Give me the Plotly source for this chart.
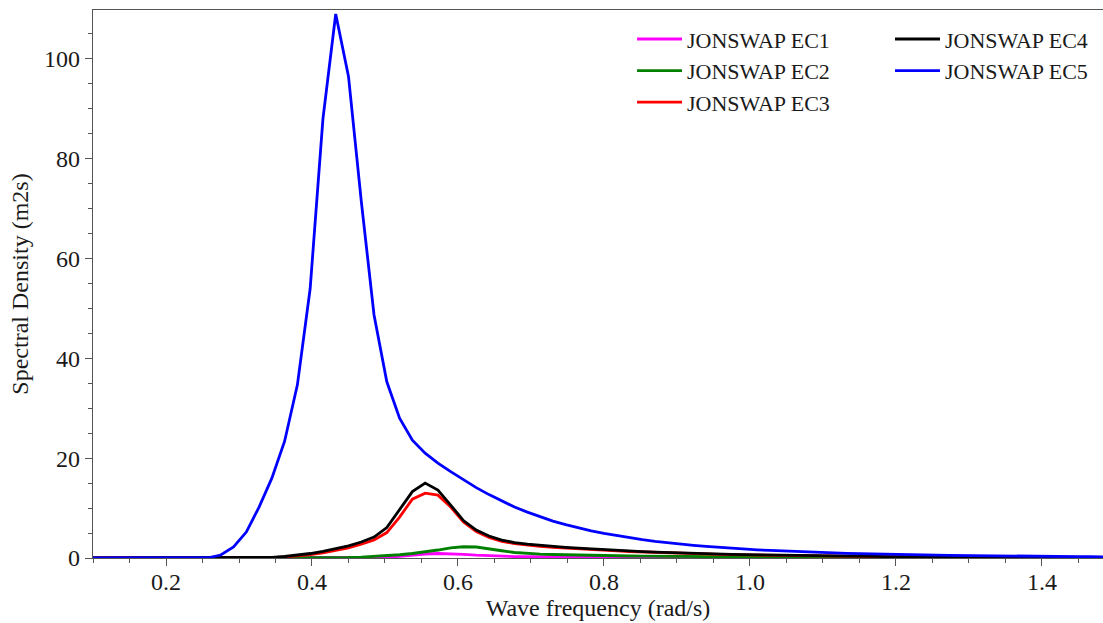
import plotly.graph_objects as go

# Wave frequency grid (rad/s)
freq = [0.1, 0.1175, 0.135, 0.1525, 0.17, 0.1875, 0.205, 0.2225, 0.24, 0.2575,
        0.275, 0.2925, 0.31, 0.3275, 0.345, 0.3625, 0.38, 0.3975, 0.415, 0.4325,
        0.45, 0.4675, 0.485, 0.5025, 0.52, 0.5375, 0.555, 0.5725, 0.59, 0.6075,
        0.625, 0.6425, 0.66, 0.6775, 0.695, 0.7125, 0.73, 0.7475, 0.765, 0.7825,
        0.8, 0.8175, 0.835, 0.8525, 0.87, 0.8875, 0.905, 0.9225, 0.94, 0.9575,
        0.975, 0.9925, 1.01, 1.0275, 1.045, 1.0625, 1.08, 1.0975, 1.115, 1.1325,
        1.15, 1.1675, 1.185, 1.2025, 1.22, 1.2375, 1.255, 1.2725, 1.29, 1.3075,
        1.325, 1.3425, 1.36, 1.3775, 1.395, 1.4125, 1.43, 1.4475, 1.465, 1.4825,
        1.5]

ec1 = [0]*22 + [0.05, 0.15, 0.33, 0.58, 0.8, 0.9, 0.86, 0.72, 0.56, 0.43,
        0.35, 0.29, 0.25, 0.22, 0.195, 0.175, 0.158, 0.143, 0.13, 0.12,
        0.11, 0.1, 0.092, 0.085, 0.078, 0.072, 0.067, 0.062, 0.057, 0.053,
        0.049, 0.046, 0.043, 0.04, 0.037, 0.035, 0.032, 0.03, 0.028,
        0.026, 0.025, 0.023, 0.022, 0.021, 0.019, 0.018, 0.017, 0.016, 0.015,
        0.015, 0.014, 0.013, 0.012, 0.012, 0.011, 0.011, 0.01, 0.01, 0.009]

ec2 = [0]*18 + [0.02, 0.05, 0.1, 0.18, 0.3, 0.45, 0.65, 0.9, 1.2, 1.6,
        2.05, 2.25, 2.2, 1.9, 1.45, 1.1, 0.9, 0.78, 0.7, 0.63,
        0.57, 0.52, 0.47, 0.435, 0.40, 0.37, 0.34, 0.315, 0.29, 0.27,
        0.25, 0.235, 0.22, 0.205, 0.19, 0.178, 0.166, 0.155, 0.145, 0.136,
        0.127, 0.12, 0.112, 0.105, 0.099, 0.093, 0.088, 0.083, 0.078, 0.074,
        0.07, 0.066, 0.062, 0.059, 0.056, 0.053, 0.05, 0.048, 0.045, 0.043,
        0.041, 0.039, 0.037]

ec3 = [0]*13 + [0.03, 0.08, 0.2, 0.4, 0.68, 1.05, 1.5, 2.05, 2.75, 3.6,
        5.1, 8.2, 11.8, 13.0, 12.6, 10.2, 7.2, 5.3, 4.1, 3.35,
        2.88, 2.58, 2.34, 2.14, 1.97, 1.82, 1.67, 1.54, 1.42, 1.30,
        1.20, 1.10, 1.01, 0.93, 0.855, 0.79, 0.725, 0.67, 0.62, 0.575,
        0.53, 0.49, 0.455, 0.42, 0.39, 0.36, 0.335, 0.315, 0.29, 0.27,
        0.25, 0.237, 0.223, 0.205, 0.195, 0.18, 0.167, 0.158, 0.15, 0.14,
        0.13, 0.124, 0.117, 0.11, 0.103, 0.098, 0.092, 0.087]

ec4 = [0]*12 + [0.02, 0.05, 0.12, 0.3, 0.55, 0.9, 1.35, 1.85, 2.45, 3.2,
        4.2, 6.1, 9.6, 13.3, 15.0, 13.6, 10.6, 7.5, 5.6, 4.4,
        3.6, 3.1, 2.78, 2.52, 2.31, 2.13, 1.96, 1.8, 1.66, 1.53,
        1.40, 1.29, 1.19, 1.09, 1.00, 0.92, 0.85, 0.78, 0.72, 0.67,
        0.62, 0.57, 0.53, 0.49, 0.45, 0.42, 0.39, 0.36, 0.34, 0.31,
        0.29, 0.27, 0.255, 0.24, 0.22, 0.21, 0.195, 0.18, 0.17, 0.16,
        0.15, 0.14, 0.133, 0.126, 0.118, 0.111, 0.105, 0.099, 0.094]

ec5 = [0]*9 + [0.05, 0.6, 2.2, 5.2, 10.2, 16.0, 23.4, 34.7, 54.0, 88.0,
        109.0, 96.5, 71.5, 48.7, 35.3, 28.0, 23.6, 21.0, 19.0, 17.3,
        15.7, 14.1, 12.7, 11.4, 10.2, 9.2, 8.3, 7.4, 6.7, 6.0,
        5.45, 4.92, 4.46, 4.04, 3.67, 3.34, 3.04, 2.77, 2.53, 2.31,
        2.12, 1.94, 1.78, 1.64, 1.51, 1.39, 1.28, 1.18, 1.09, 1.01,
        0.94, 0.87, 0.81, 0.75, 0.70, 0.65, 0.61, 0.57, 0.53, 0.49,
        0.46, 0.43, 0.41, 0.38, 0.36, 0.34, 0.32, 0.30, 0.28, 0.26,
        0.25, 0.23]

names = ["JONSWAP EC1", "JONSWAP EC2", "JONSWAP EC3", "JONSWAP EC4", "JONSWAP EC5"]
series = [ec1, ec2, ec3, ec4, ec5]
colors = ["#ff00ff", "#008000", "#ff0000", "#000000", "#0000ff"]
legends = ["legend", "legend", "legend", "legend2", "legend2"]

for s in series:
    assert len(s) == len(freq), len(s)

FONT = "Liberation Serif, Times New Roman, serif"
TXT = "#1a1a1a"

fig = go.Figure()
for name, s, c, lg in zip(names, series, colors, legends):
    fig.add_trace(go.Scatter(x=freq, y=s, mode="lines", name=name,
                             line=dict(color=c, width=2.8),
                             legend=lg, legendgroup=name))

axis_common = dict(
    showline=True, linecolor="#555555", linewidth=1.3,
    ticks="outside", ticklen=7, tickwidth=1.2, tickcolor="#555555",
    showgrid=False, zeroline=False,
    tickfont=dict(family=FONT, size=24, color=TXT),
)

legend_common = dict(xanchor="left", yanchor="top", y=0.985,
                     bgcolor="rgba(0,0,0,0)", tracegroupgap=0, itemwidth=45,
                     font=dict(family=FONT, size=22, color=TXT))

fig.update_layout(
    width=1103, height=623,
    margin=dict(l=93, r=0, t=10, b=65),
    paper_bgcolor="white", plot_bgcolor="white",
    font=dict(family=FONT, color=TXT),
    xaxis=dict(
        range=[0.1, 1.4836], tickvals=[0.2, 0.4, 0.6, 0.8, 1.0, 1.2, 1.4],
        ticktext=["0.2", "0.4", "0.6", "0.8", "1.0", "1.2", "1.4"],
        mirror=True, ticklabelstandoff=-5,
        minor=dict(dtick=0.05, tick0=0.0, ticks="outside", ticklen=4,
                   tickcolor="#555555", tickwidth=1),
        title=dict(text="Wave frequency (rad/s)", font=dict(family=FONT, size=24, color=TXT),
                   standoff=4),
        **axis_common),
    yaxis=dict(
        range=[0, 109.8], tickvals=[0, 20, 40, 60, 80, 100],
        ticklabelstandoff=0,
        minor=dict(dtick=5, tick0=0, ticks="outside", ticklen=4,
                   tickcolor="#555555", tickwidth=1),
        title=dict(text="Spectral Density (m2s)", font=dict(family=FONT, size=24, color=TXT),
                   standoff=8),
        **axis_common),
    legend=dict(x=0.5337, **legend_common),
    legend2=dict(x=0.7891, **legend_common),
    showlegend=True,
)

fig.write_html("out.html")
